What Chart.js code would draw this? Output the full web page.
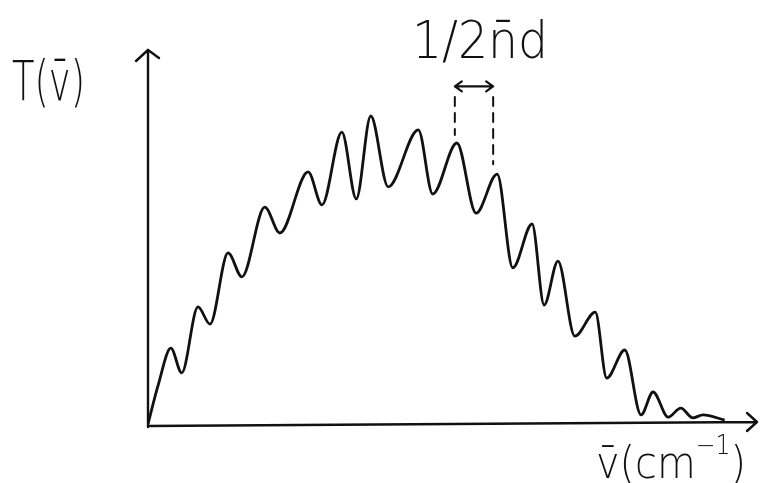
<!DOCTYPE html>
<html>
<head>
<meta charset="utf-8">
<script src="https://cdn.jsdelivr.net/npm/chart.js@4.4.1/dist/chart.umd.min.js"></script>
<style>
  html, body { margin: 0; padding: 0; background: #fff; }
  #wrap { width: 764px; height: 483px; }
</style>
</head>
<body>
<div id="wrap"><canvas id="chart" width="764" height="483"></canvas></div>
<script>
// Transmission spectrum with interference fringes (arbitrary units 0-100)
const wavenumber = [0, 1.7, 3.8, 5.6, 8.3, 10.3, 13.3, 15.6, 19.4, 21.9, 26.6, 28.9, 32.2, 34.6, 37.0, 39.9,
    44.9, 47.3, 51.3, 54.5, 58.0, 60.6, 63.8, 65.8, 68.1, 70.9, 74.3, 76.2, 79.2, 81.9, 83.9, 86.4, 88.5, 90.5, 92.2, 95.8];
const transmission = [0.3, 10.7, 20.5, 13.9, 31.5, 26.9, 45.9, 39.5, 58.1, 51.2, 67.5, 58.7, 78.1, 60.3, 82.4, 63.5,
    78.7, 61.6, 75.2, 56.5, 66.9, 41.9, 53.6, 32.0, 43.7, 23.7, 30.1, 12.5, 20.0, 2.7, 8.8, 2.1, 4.5, 1.9, 2.7, 1.3];

const yLabel = 'T(v̄)';
// x label as [text, size, raise] pieces so the exponent sits up high
const xLabelParts = [['v̄(cm', 44, 0], ['−1', 26, 24], [')', 44, 0]];
const spacingLabel = '1/2n̄d';
// two neighbouring fringe peaks that the spacing marker points at
const markPeaks = [18, 20];
const markTop = 87.5;
const arrowLevel = 90.3;

const ink = '#111';
const face = '"DejaVu Sans"';

function fitText(ctx, text, x, baseline, size, width) {
    ctx.save();
    ctx.font = '200 ' + size + 'px ' + face;
    const w = ctx.measureText(text).width;
    ctx.translate(x, baseline);
    ctx.scale(width / w, 1);
    ctx.fillStyle = ink;
    ctx.fillText(text, 0, 0);
    ctx.restore();
}

function fitParts(ctx, parts, x, baseline, width) {
    ctx.save();
    let total = 0;
    const widths = parts.map(([t, s]) => {
        ctx.font = '200 ' + s + 'px ' + face;
        const w = ctx.measureText(t).width;
        total += w;
        return w;
    });
    ctx.translate(x, baseline);
    ctx.scale(width / total, 1);
    ctx.fillStyle = ink;
    let cx = 0;
    parts.forEach(([t, s, r], i) => {
        ctx.font = '200 ' + s + 'px ' + face;
        ctx.fillText(t, cx, -r);
        cx += widths[i];
    });
    ctx.restore();
}

const sketch = {
    id: 'sketch',
    afterDraw(chart) {
        const { ctx, chartArea: a, scales: { x, y } } = chart;
        ctx.save();
        ctx.strokeStyle = ink;
        ctx.lineCap = 'round';
        ctx.lineJoin = 'round';

        // axes with open arrow heads
        ctx.lineWidth = 2.4;
        ctx.beginPath();
        ctx.moveTo(a.left, a.bottom + 2);
        ctx.lineTo(a.left, a.top);
        ctx.moveTo(a.left - 12, a.top + 11);
        ctx.lineTo(a.left, a.top);
        ctx.lineTo(a.left + 11, a.top + 8);
        ctx.moveTo(a.left, a.bottom + 1);
        ctx.lineTo(a.right + 7, a.bottom - 3);
        ctx.moveTo(a.right - 3, a.bottom - 12);
        ctx.lineTo(a.right + 7, a.bottom - 3);
        ctx.lineTo(a.right - 3, a.bottom + 6);
        ctx.stroke();

        // dashed guides above the two peaks
        const x1 = x.getPixelForValue(wavenumber[markPeaks[0]]) - 2;
        const x2 = x.getPixelForValue(wavenumber[markPeaks[1]]) - 4;
        const yTop = y.getPixelForValue(markTop);
        ctx.lineWidth = 2;
        ctx.setLineDash([9, 7]);
        ctx.beginPath();
        ctx.moveTo(x1, yTop);
        ctx.lineTo(x1, y.getPixelForValue(transmission[markPeaks[0]]) - 8);
        ctx.moveTo(x2, yTop);
        ctx.lineTo(x2, y.getPixelForValue(transmission[markPeaks[1]]) - 10);
        ctx.stroke();
        ctx.setLineDash([]);

        // double arrow between them
        const ya = y.getPixelForValue(arrowLevel);
        ctx.lineWidth = 2.2;
        ctx.beginPath();
        ctx.moveTo(x1, ya);
        ctx.lineTo(x2, ya);
        ctx.moveTo(x1 + 7, ya - 5);
        ctx.lineTo(x1, ya);
        ctx.lineTo(x1 + 7, ya + 5);
        ctx.moveTo(x2 - 7, ya - 5);
        ctx.lineTo(x2, ya);
        ctx.lineTo(x2 - 7, ya + 5);
        ctx.stroke();

        // labels
        fitText(ctx, spacingLabel, 412, 58, 52, 136);
        fitText(ctx, yLabel, 12, 100, 55, 73);
        fitParts(ctx, xLabelParts, 596, 478, 150);
        ctx.restore();
    }
};

new Chart(document.getElementById('chart'), {
    type: 'line',
    data: {
        datasets: [{
            data: wavenumber.map((v, i) => ({ x: v, y: transmission[i] })),
            borderColor: ink,
            borderWidth: 2.8,
            pointRadius: 0,
            fill: false,
            cubicInterpolationMode: 'monotone'
        }]
    },
    options: {
        responsive: false,
        animation: false,
        events: [],
        layout: { padding: { left: 148, right: 14, top: 50, bottom: 58 } },
        plugins: { legend: { display: false }, tooltip: { enabled: false }, title: { display: false } },
        scales: {
            x: { type: 'linear', min: 0, max: 100, display: false },
            y: { type: 'linear', min: 0, max: 100, display: false }
        }
    },
    plugins: [sketch]
});
</script>
</body>
</html>
